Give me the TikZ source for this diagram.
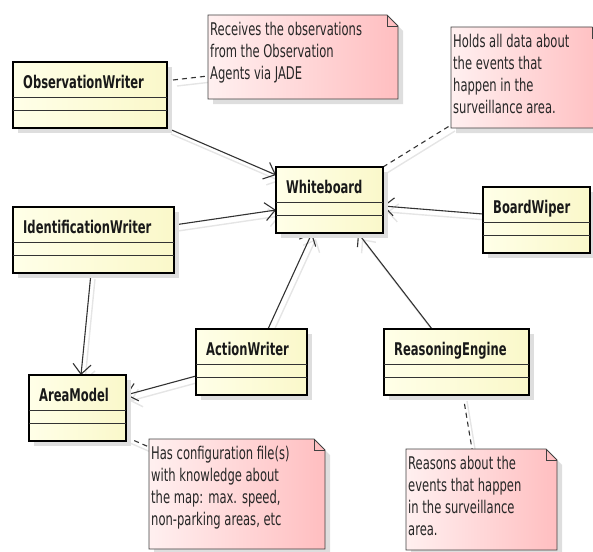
\documentclass[tikz,border=0pt]{standalone}
\usepackage{fontspec}
\setmainfont{DejaVu Sans}[FakeStretch=0.66]
\usepackage{tikz}
\usetikzlibrary{arrows.meta,shadows,backgrounds,calc}
\definecolor{clsleft}{RGB}{255,255,232}
\definecolor{clsright}{RGB}{250,248,202}
\definecolor{noteleft}{RGB}{255,240,240}
\definecolor{noteright}{RGB}{255,190,192}

\tikzset{
  classbox/.style={rectangle, draw=black, line width=2.4pt, outer sep=0pt, minimum height=66pt, anchor=north west, left color=clsleft, right color=clsright, drop shadow={shadow xshift=5pt, shadow yshift=-5pt, opacity=1, fill=black!13}},
  classname/.style={inner sep=0pt, font=\fontsize{17.5}{22}\selectfont\bfseries, text=black!90},
  compline/.style={draw=black!80, line width=0.9pt},
  notebox/.style={rectangle, inner sep=0pt, outer sep=0pt, anchor=north west},
  notebody/.style={draw=black!75, line width=0.8pt, left color=noteleft, right color=noteright, drop shadow={shadow xshift=5pt, shadow yshift=-5pt, opacity=1, fill=black!13}},
  notetext/.style={inner sep=0pt, align=left, font=\fontsize{17.5}{22}\selectfont, text=black!85},
  assoc/.style={draw=black!80, line width=1.1pt, -{Straight Barb[length=10pt,width=18pt]}, preaction={draw=black!10, line width=1.4pt, transform canvas={shift={(4pt,-6pt)}}}},
  notelink/.style={draw=black!80, line width=1.1pt, dash pattern=on 5pt off 4pt, preaction={draw=black!10, line width=1.4pt, solid, transform canvas={shift={(4pt,-6pt)}}}}
}

\begin{document}
\begin{tikzpicture}[x=1pt, y=-1pt]
    \useasboundingbox (0,0) rectangle (593,551);

    % Classes
    \foreach \nm/\x/\y/\w/\txt in {obs/13/62/154/ObservationWriter, idw/13/207/161/IdentificationWriter, wb/276/167/107/Whiteboard, bw/483/187/107/BoardWiper, aw/196/329/111/ActionWriter, re/384/329/145/ReasoningEngine, am/29/375/97/AreaModel} {
        \node[classbox, minimum width=\w*1pt] (\nm) at (\x,\y) {};
        \draw[compline] ([yshift=-35pt]\nm.north west) -- ([yshift=-35pt]\nm.north east);
        \draw[compline] ([yshift=-48pt]\nm.north west) -- ([yshift=-48pt]\nm.north east);
        \node[classname, anchor=base west] at ([xshift=10pt,yshift=-26pt]\nm.north west) {\txt};
    }

    % Notes
    \foreach \nm/\x/\y/\w/\h/\txt in {n1/208/15/190/84/{Receives the observations\\from the Observation\\Agents via JADE}, n2/451/27/152/101/{Holds all data about\\the events that\\happen in the\\surveillance area.}, n3/149/439/176/110/{Has configuration file(s)\\with knowledge about\\the map: max. speed,\\non-parking areas, etc}, n4/406/449/151/101/{Reasons about the\\events that happen\\in the surveillance\\area.}} {
        \node[notebox, minimum width=\w*1pt, minimum height=\h*1pt] (\nm) at (\x,\y) {};
        \path[notebody] (\nm.north west) -- ([xshift=-11pt]\nm.north east) -- ([yshift=-11pt]\nm.north east) -- (\nm.south east) -- (\nm.south west) -- cycle;
        \draw[draw=black!75, line width=0.8pt] ([xshift=-11pt]\nm.north east) |- ([yshift=-11pt]\nm.north east);
        \node[notetext, anchor=north west] at ([xshift=2pt,yshift=-7pt]\nm.north west) {\txt};
    }

    % Connectors
    \begin{scope}[on background layer]
        \draw[assoc] (obs.south east) -- ([yshift=-8pt]wb.north west);
        \draw[assoc] ([yshift=-18pt]idw.north east) -- ([yshift=-43pt]wb.north west);
        \draw[assoc] ([yshift=-27pt]bw.north west) -- ([yshift=-39pt]wb.north east);
        \draw[assoc] ([xshift=72pt]aw.north west) -- ([xshift=36pt]wb.south west);
        \draw[assoc] ([xshift=48pt]re.north west) -- ([xshift=82pt]wb.south west);
        \draw[assoc] ([xshift=78pt]idw.south west) -- ([xshift=52pt]am.north west);
        \draw[assoc] ([yshift=-47pt]aw.north west) -- ([yshift=-20pt]am.north east);

        \draw[notelink] ([xshift=6pt,yshift=-18pt]obs.north east) -- ([yshift=-61pt]n1.north west);
        \draw[notelink] (wb.north east) -- ([yshift=3pt]n2.south west);
        \draw[notelink] ([yshift=4pt]am.south east) -- ([yshift=-8pt]n3.north west);
        \draw[notelink] ([xshift=79pt]re.south west) -- ([xshift=66pt]n4.north west);
    \end{scope}

\end{tikzpicture}
\end{document}
